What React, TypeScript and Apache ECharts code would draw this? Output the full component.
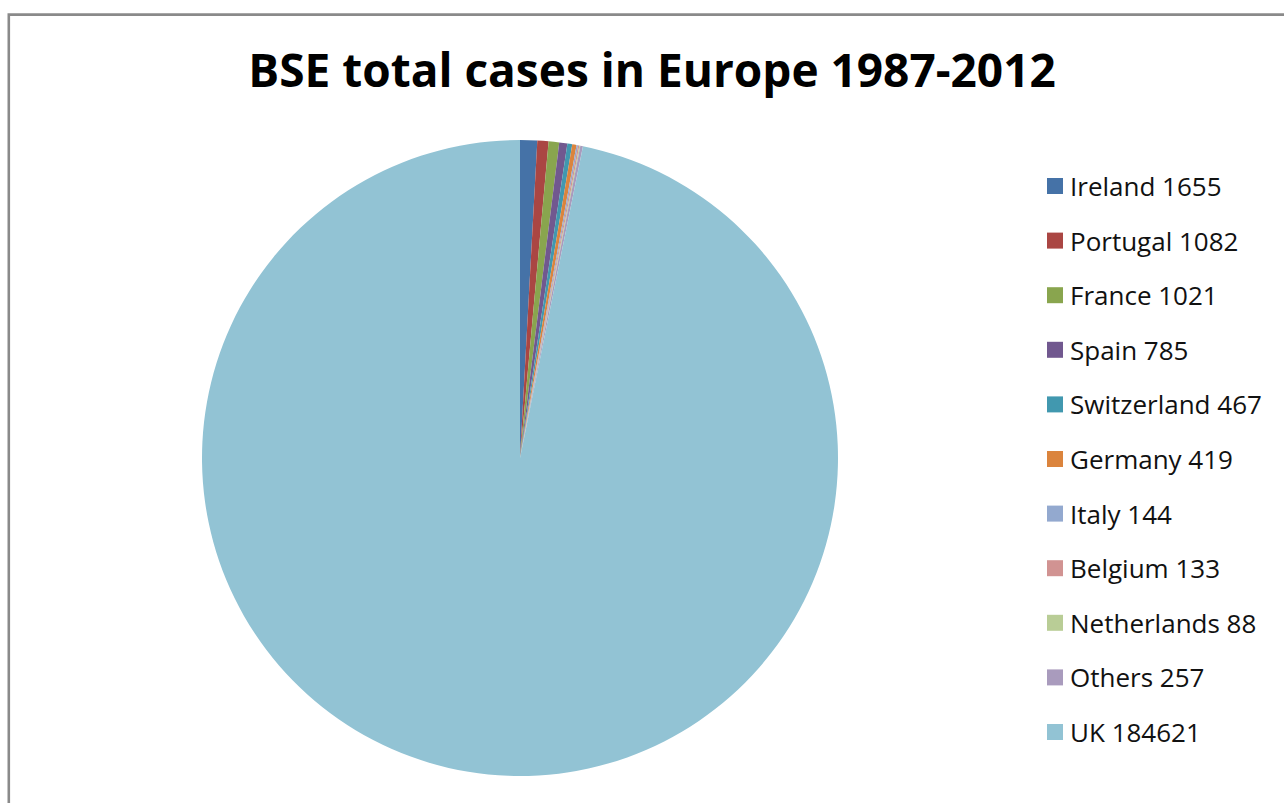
import React, { useEffect, useRef } from "react";
import * as echarts from "echarts";

const countries = ["Ireland", "Portugal", "France", "Spain", "Switzerland", "Germany", "Italy", "Belgium", "Netherlands", "Others", "UK"];
const cases = [1655, 1082, 1021, 785, 467, 419, 144, 133, 88, 257, 184621];
const colors = ["#4572A7", "#AA4643", "#89A54E", "#71588F", "#4198AF", "#DB843D", "#93A9CF", "#D19392", "#B9CD96", "#A99BBD", "#92C3D4"];
const titleText = "BSE total cases in Europe 1987-2012";

export default function App() {
  const ref = useRef<HTMLDivElement>(null);
  useEffect(() => {
    if (!ref.current) return;
    const chart = echarts.init(ref.current, null, { renderer: "svg" });
    const data = countries.map((c, i) => ({
      name: `${c} ${cases[i]}`,
      value: cases[i],
      itemStyle: { color: colors[i] },
    }));
    chart.setOption({
      animation: false,
      backgroundColor: "#ffffff",
      title: {
        text: titleText,
        left: 647,
        textAlign: "center",
        top: 41,
        textStyle: { fontFamily: "Open Sans", fontWeight: "bold", fontSize: 46, color: "#000" },
      },
      legend: {
        orient: "vertical",
        left: 1047,
        top: 173,
        padding: 0,
        itemWidth: 16,
        itemHeight: 16,
        itemGap: 28.6,
        icon: "rect",
        textStyle: { fontFamily: "Open Sans", fontSize: 26, color: "#111", lineHeight: 26, padding: [0, 0, 0, 2] },
        data: data.map((d) => d.name),
      },
      graphic: [
        {
          type: "rect",
          shape: { x: 8.8, y: 14.6, width: 1400, height: 900 },
          style: { fill: "none", stroke: "#8a8a8a", lineWidth: 2.6 },
          silent: true,
        },
      ],
      series: [
        {
          type: "pie",
          center: [520, 458],
          radius: 318,
          startAngle: 90,
          clockwise: true,
          label: { show: false },
          labelLine: { show: false },
          itemStyle: { borderWidth: 0 },
          emphasis: { disabled: true },
          data,
        },
      ],
    });
    return () => chart.dispose();
  }, []);
  return <div ref={ref} style={{ position: "absolute", left: 0, top: 0, width: 1284, height: 803 }} />;
}
